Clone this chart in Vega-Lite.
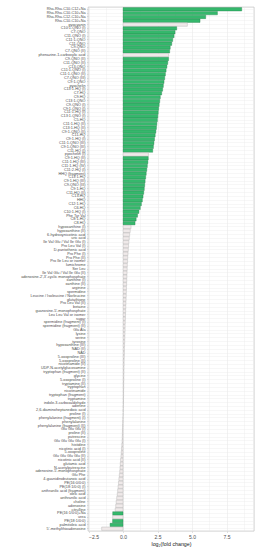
{
"$schema": "https://vega.github.io/schema/vega-lite/v6.json",
"autosize": {"type": "none"},
"padding": {"left": 88, "top": 7, "right": 14, "bottom": 19},
"width": 166,
"height": 524,
"background": "white",
"config": {"font": "Liberation Sans", "view": {"stroke": "#b3b3b3", "strokeWidth": 0.6}},
"data": {"values": [
{"m": "Rha-Rha-C10-C12+Na", "fc": 8.6, "sig": "yes"},
{"m": "Rha-Rha-C10-C10+Na", "fc": 6.84, "sig": "yes"},
{"m": "Rha-Rha-C12-C10+Na", "fc": 5.99, "sig": "yes"},
{"m": "Rha-C10-C10+Na", "fc": 5.58, "sig": "yes"},
{"m": "pyocyanin", "fc": 4.66, "sig": "no"},
{"m": "C10:1-QNO (I)", "fc": 3.89, "sig": "yes"},
{"m": "C7-QNO", "fc": 3.77, "sig": "yes"},
{"m": "C11-QNO (I)", "fc": 3.7, "sig": "yes"},
{"m": "C11:1-QNO", "fc": 3.6, "sig": "yes"},
{"m": "C11-QNO", "fc": 3.53, "sig": "yes"},
{"m": "C9-QNO", "fc": 3.42, "sig": "yes"},
{"m": "C7-QNO (II)", "fc": 3.38, "sig": "yes"},
{"m": "phenazine-1-carboxylic acid", "fc": 3.3, "sig": "no"},
{"m": "C9-QNO (II)", "fc": 3.3, "sig": "yes"},
{"m": "C11-QNO (II)", "fc": 3.24, "sig": "yes"},
{"m": "C13-QNO", "fc": 3.18, "sig": "yes"},
{"m": "C11:1-QNO (I)", "fc": 3.12, "sig": "yes"},
{"m": "C11:1-QNO (II)", "fc": 3.07, "sig": "yes"},
{"m": "C7-QNO (III)", "fc": 3.02, "sig": "yes"},
{"m": "C9:1-QNO", "fc": 2.97, "sig": "yes"},
{"m": "pyochelin", "fc": 2.92, "sig": "yes"},
{"m": "C13:1-HQ (I)", "fc": 2.87, "sig": "yes"},
{"m": "C7-HQ", "fc": 2.8, "sig": "yes"},
{"m": "C9-HQ", "fc": 2.7, "sig": "yes"},
{"m": "C13:1-QNO", "fc": 2.66, "sig": "yes"},
{"m": "C9-QNO (I)", "fc": 2.62, "sig": "yes"},
{"m": "C9:1-QNO (I)", "fc": 2.58, "sig": "yes"},
{"m": "C11:1-HQ (I)", "fc": 2.55, "sig": "yes"},
{"m": "C13:1-QNO (I)", "fc": 2.52, "sig": "yes"},
{"m": "C5-HQ", "fc": 2.49, "sig": "yes"},
{"m": "C11:1-HQ (II)", "fc": 2.45, "sig": "yes"},
{"m": "C13:1-HQ (II)", "fc": 2.42, "sig": "yes"},
{"m": "C9:1-QNO (II)", "fc": 2.38, "sig": "yes"},
{"m": "C11-HQ", "fc": 2.33, "sig": "yes"},
{"m": "C9:1-HQ (I)", "fc": 2.28, "sig": "yes"},
{"m": "C11:1-QNO (III)", "fc": 2.24, "sig": "yes"},
{"m": "C9:1-QNO (III)", "fc": 2.2, "sig": "yes"},
{"m": "C11-HQ (I)", "fc": 2.15, "sig": "yes"},
{"m": "pyochelin (I)", "fc": 1.84, "sig": "no"},
{"m": "C9:1-HQ (II)", "fc": 1.83, "sig": "yes"},
{"m": "C11:1-HQ (III)", "fc": 1.8, "sig": "yes"},
{"m": "C11:1-HQ (IV)", "fc": 1.76, "sig": "yes"},
{"m": "C11:2-HQ (I)", "fc": 1.72, "sig": "yes"},
{"m": "HHQ (fragment)", "fc": 1.68, "sig": "yes"},
{"m": "C13:1-HQ", "fc": 1.64, "sig": "yes"},
{"m": "C9:1-HQ (III)", "fc": 1.6, "sig": "yes"},
{"m": "C9-QNO (III)", "fc": 1.57, "sig": "yes"},
{"m": "C9:1-HQ", "fc": 1.54, "sig": "yes"},
{"m": "C11-HQ (II)", "fc": 1.5, "sig": "yes"},
{"m": "C13-HQ", "fc": 1.45, "sig": "yes"},
{"m": "HHQ", "fc": 1.4, "sig": "yes"},
{"m": "C12:1-HQ", "fc": 1.33, "sig": "yes"},
{"m": "C6-HQ", "fc": 1.25, "sig": "yes"},
{"m": "C10:1-HQ (I)", "fc": 1.15, "sig": "yes"},
{"m": "Phe Tyr Val", "fc": 1.05, "sig": "yes"},
{"m": "C8:1-HQ", "fc": 0.95, "sig": "yes"},
{"m": "C8-HQ", "fc": 0.87, "sig": "yes"},
{"m": "hypoxanthine (I)", "fc": 0.58, "sig": "no"},
{"m": "hypoxanthine (II)", "fc": 0.52, "sig": "no"},
{"m": "6-hydroxynicotinic acid", "fc": 0.48, "sig": "no"},
{"m": "uric acid", "fc": 0.45, "sig": "no"},
{"m": "Ile Val Glu / Val Ile Glu (I)", "fc": 0.42, "sig": "no"},
{"m": "Pro Leu Val (I)", "fc": 0.4, "sig": "no"},
{"m": "D-pantothenic acid", "fc": 0.38, "sig": "no"},
{"m": "Pro Phe (I)", "fc": 0.36, "sig": "no"},
{"m": "Pro Phe (II)", "fc": 0.34, "sig": "no"},
{"m": "Pro Ile Leu or isomer", "fc": 0.33, "sig": "no"},
{"m": "lumichrome", "fc": 0.31, "sig": "no"},
{"m": "Ser Leu", "fc": 0.3, "sig": "no"},
{"m": "Ile Val Glu / Val Ile Glu (II)", "fc": 0.29, "sig": "no"},
{"m": "adenosine-2',3'-cyclic monophosphate", "fc": 0.28, "sig": "no"},
{"m": "xanthine (I)", "fc": 0.27, "sig": "no"},
{"m": "xanthine (II)", "fc": 0.26, "sig": "no"},
{"m": "arginine", "fc": 0.25, "sig": "no"},
{"m": "spermidine", "fc": 0.24, "sig": "no"},
{"m": "Leucine / Isoleucine / Norleucine", "fc": 0.23, "sig": "no"},
{"m": "glutathione", "fc": 0.22, "sig": "no"},
{"m": "Pro Leu Val (II)", "fc": 0.21, "sig": "no"},
{"m": "betaine", "fc": 0.2, "sig": "no"},
{"m": "guanosine-5'-monophosphate", "fc": 0.19, "sig": "no"},
{"m": "Leu Leu Val or isomer", "fc": 0.18, "sig": "no"},
{"m": "sugar", "fc": 0.17, "sig": "no"},
{"m": "spermidine (fragment) (I)", "fc": 0.16, "sig": "no"},
{"m": "spermidine (fragment) (II)", "fc": 0.15, "sig": "no"},
{"m": "Glu Ala", "fc": 0.15, "sig": "no"},
{"m": "lysine", "fc": 0.14, "sig": "no"},
{"m": "serine", "fc": 0.13, "sig": "no"},
{"m": "tyrosine", "fc": 0.12, "sig": "no"},
{"m": "hypoxanthine (III)", "fc": 0.11, "sig": "no"},
{"m": "NAD (II)", "fc": 0.1, "sig": "no"},
{"m": "NAD", "fc": 0.1, "sig": "no"},
{"m": "5-oxoproline (III)", "fc": 0.09, "sig": "no"},
{"m": "5-oxoproline (II)", "fc": 0.08, "sig": "no"},
{"m": "nicotinamide (II)", "fc": 0.08, "sig": "no"},
{"m": "UDP-N-acetylglucosamine", "fc": 0.07, "sig": "no"},
{"m": "tryptophan (fragment) (II)", "fc": 0.07, "sig": "no"},
{"m": "glycine", "fc": 0.06, "sig": "no"},
{"m": "5-oxoproline (I)", "fc": 0.06, "sig": "no"},
{"m": "tryptamine (II)", "fc": 0.05, "sig": "no"},
{"m": "tryptophan", "fc": 0.05, "sig": "no"},
{"m": "nicotinamide", "fc": 0.04, "sig": "no"},
{"m": "tryptophan (fragment)", "fc": 0.04, "sig": "no"},
{"m": "tryptamine", "fc": 0.03, "sig": "no"},
{"m": "indole-3-carboxaldehyde", "fc": 0.03, "sig": "no"},
{"m": "adenine", "fc": 0.02, "sig": "no"},
{"m": "2,6-diaminoheptanedioic acid", "fc": 0.01, "sig": "no"},
{"m": "proline (I)", "fc": 0.005, "sig": "no"},
{"m": "phenylalanine (fragment) (I)", "fc": -0.01, "sig": "no"},
{"m": "phenylalanine", "fc": -0.02, "sig": "no"},
{"m": "phenylalanine (fragment) (II)", "fc": -0.03, "sig": "no"},
{"m": "Glu Glu Glu (I)", "fc": -0.04, "sig": "no"},
{"m": "proline (II)", "fc": -0.05, "sig": "no"},
{"m": "putrescine", "fc": -0.06, "sig": "no"},
{"m": "Glu Glu Glu Glu (I)", "fc": -0.07, "sig": "no"},
{"m": "histidine", "fc": -0.09, "sig": "no"},
{"m": "nicotinic acid (I)", "fc": -0.11, "sig": "no"},
{"m": "5-oxoproline", "fc": -0.13, "sig": "no"},
{"m": "Glu Glu Glu Glu (II)", "fc": -0.15, "sig": "no"},
{"m": "nicotinic acid (II)", "fc": -0.18, "sig": "no"},
{"m": "glutamic acid", "fc": -0.2, "sig": "no"},
{"m": "N-acetylputrescine", "fc": -0.22, "sig": "no"},
{"m": "adenosine-5'-monophosphate", "fc": -0.24, "sig": "no"},
{"m": "Glu Phe", "fc": -0.27, "sig": "no"},
{"m": "4-guanidinobutanoic acid", "fc": -0.3, "sig": "no"},
{"m": "PE(16:0/0:0)", "fc": -0.33, "sig": "no"},
{"m": "PE(18:1/0:0) (I)", "fc": -0.36, "sig": "no"},
{"m": "anthranilic acid (fragment)", "fc": -0.39, "sig": "no"},
{"m": "oleic acid", "fc": -0.42, "sig": "no"},
{"m": "anthranilic acid", "fc": -0.46, "sig": "no"},
{"m": "choline", "fc": -0.5, "sig": "no"},
{"m": "adenosine", "fc": -0.53, "sig": "no"},
{"m": "citrulline", "fc": -0.57, "sig": "no"},
{"m": "PE(16:1/0:0)+Na", "fc": -0.75, "sig": "yes"},
{"m": "urea", "fc": -0.75, "sig": "no"},
{"m": "PE(18:1/0:0)", "fc": -0.76, "sig": "yes"},
{"m": "palmitoleic acid", "fc": -0.94, "sig": "yes"},
{"m": "5'-methylthioadenosine", "fc": -1.55, "sig": "no"}
]},
"mark": {"type": "bar", "strokeWidth": 0.35},
"encoding": {
"y": {"field": "m", "type": "nominal", "sort": null, "title": null,
"scale": {"paddingInner": 0.1, "paddingOuter": 0.15},
"axis": {"labelFontSize": 3.8, "labelColor": "#4d4d4d", "labelPadding": 1.5, "ticks": true, "tickSize": 1.5, "tickColor": "#b3b3b3", "tickWidth": 0.4, "domain": false, "grid": true, "gridColor": "#ebebeb", "gridWidth": 0.4, "bandPosition": 0.5, "labelLimit": 200}},
"x": {"field": "fc", "type": "quantitative", "title": "log₂(fold change)",
"scale": {"domain": [-2.54, 9.49], "nice": false, "zero": false},
"axis": {"values": [-2.5, -1.25, 0, 1.25, 2.5, 3.75, 5, 6.25, 7.5, 8.75],
"labelExpr": "datum.value % 2.5 === 0 ? format(datum.value, '.1f') : ''",
"labelFontSize": 5, "labelColor": "#4d4d4d", "labelPadding": 1.5,
"tickSize": 1.5, "tickColor": "#b3b3b3", "tickWidth": 0.4,
"tickOpacity": {"condition": {"test": "datum.value % 2.5 === 0", "value": 1}, "value": 0},
"gridColor": "#e4e4e4",
"gridWidth": {"condition": {"test": "datum.value % 2.5 === 0", "value": 0.5}, "value": 0.3},
"domain": false, "titleFontSize": 5.3, "titleFontWeight": "normal", "titlePadding": 2, "titleColor": "#1a1a1a"}},
"fill": {"field": "sig", "type": "nominal", "legend": null,
"scale": {"domain": ["yes", "no"], "range": ["#35b86c", "#efe9e9"]}},
"stroke": {"field": "sig", "type": "nominal", "legend": null,
"scale": {"domain": ["yes", "no"], "range": ["#1f7a45", "#a6a6a6"]}}
}
}
